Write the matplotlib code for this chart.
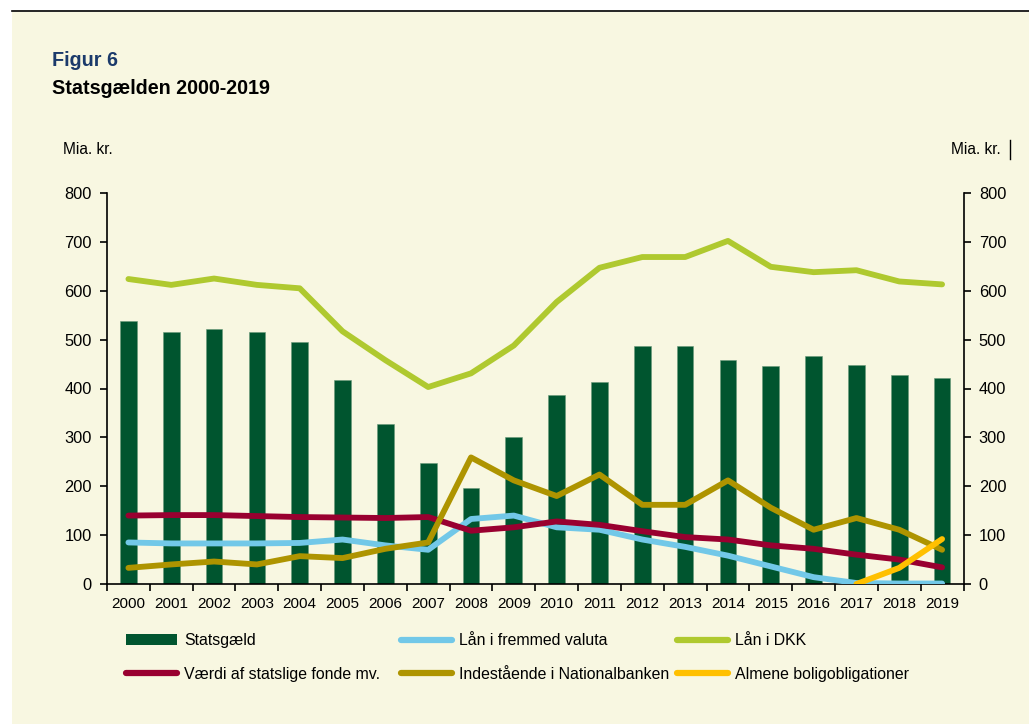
import matplotlib
matplotlib.use("Agg")
import matplotlib.pyplot as plt
import numpy as np
from matplotlib.lines import Line2D
from matplotlib.patches import Patch, Rectangle

plt.rcParams['font.family'] = ['Liberation Sans', 'DejaVu Sans']

years = [str(y) for y in range(2000, 2020)]
statsgaeld = [538, 515, 521, 516, 495, 418, 328, 247, 196, 301,
              386, 414, 487, 487, 458, 446, 466, 449, 427, 422]
laan_fremmed = [85, 83, 83, 83, 84, 91, 79, 70, 133, 140,
                116, 111, 91, 76, 58, 36, 14, 2, 1, 1]
laan_dkk = [624, 612, 625, 612, 605, 517, 458, 403, 431, 488,
            577, 647, 669, 669, 702, 649, 638, 642, 619, 613]
fonde = [140, 141, 141, 139, 137, 136, 135, 137, 109, 116,
         128, 121, 108, 96, 91, 79, 72, 60, 50, 34]
indestaaende = [33, 40, 46, 40, 57, 53, 72, 85, 259, 212,
                180, 224, 162, 162, 212, 156, 111, 135, 111, 70]
almene_years = ['2017', '2018', '2019']
almene = [0, 33, 92]
yticks = [0, 100, 200, 300, 400, 500, 600, 700, 800]

BG = '#F8F7E1'
c_bar = '#00552F'
c_blue = '#72C8E8'
c_lime = '#AFC92F'
c_red = '#990030'
c_olive = '#AE9400'
c_yellow = '#FFC000'

W, H = 1029, 724
fig = plt.figure(figsize=(W / 100, H / 100), dpi=100, facecolor='white')
# cream panel and top rule
fig.patches.append(Rectangle((12 / W, 0), 1 - 12 / W, 1 - 12 / H, transform=fig.transFigure,
                             facecolor=BG, edgecolor='none', zorder=-10))
fig.add_artist(Line2D([12 / W, 1], [1 - 11 / H, 1 - 11 / H], color='black', lw=1.2, zorder=-5))

XFS = 11
YFS = 11.8
ax = fig.add_axes([107 / W, 1 - 584 / H, (963.5 - 107) / W, (584 - 193) / H])
ax.set_facecolor('none')
x = np.arange(len(years))
ax.bar(x, statsgaeld, width=0.39, color=c_bar, edgecolor='#6a9a7a', linewidth=0.4, zorder=2)
lw = 4.2
kw = dict(lw=lw, solid_capstyle='round', solid_joinstyle='round', zorder=3)
ax.plot(x, laan_fremmed, color=c_blue, **kw)
ax.plot(x, laan_dkk, color=c_lime, **kw)
ax.plot(x, fonde, color=c_red, **kw)
ax.plot(x, indestaaende, color=c_olive, **kw)
xa = [years.index(y) for y in almene_years]
ax.plot(xa, almene, color=c_yellow, **kw)

ax.set_xlim(-0.5, len(years) - 0.5)
ax.set_ylim(0, 800)
ax.set_yticks(yticks)
ax.set_yticklabels([str(v) for v in yticks], fontsize=YFS)
ax.set_xticks(x)
ax.set_xticklabels(years, fontsize=XFS)
ax.tick_params(axis='x', which='major', length=0, pad=9)
ax.set_xticks(np.arange(-0.5, len(years) + 0.5, 1), minor=True)
ax.tick_params(axis='x', which='minor', length=5, width=1.2, direction='out')
ax.tick_params(axis='y', length=5, width=1.2, direction='out', pad=6)
for s in ['top', 'right']:
    ax.spines[s].set_visible(False)
ax.spines['left'].set_linewidth(1.2)
ax.spines['bottom'].set_linewidth(1.2)

ax2 = ax.twinx()
ax2.set_ylim(0, 800)
ax2.set_yticks(yticks)
ax2.set_yticklabels([str(v) for v in yticks], fontsize=YFS)
ax2.tick_params(axis='y', length=5, width=1.2, direction='out', pad=6)
for s in ['top', 'left', 'bottom']:
    ax2.spines[s].set_visible(False)
ax2.spines['right'].set_linewidth(1.2)

fig.text(52 / W, 1 - 60 / H, 'Figur 6', color='#1B3A6B', fontsize=14.2, fontweight='bold', va='center')
fig.text(52 / W, 1 - 88 / H, 'Statsgælden 2000-2019', color='black', fontsize=14.2, fontweight='bold', va='center')
fig.text(63 / W, 1 - 150 / H, 'Mia. kr.', fontsize=11.2, va='center')
fig.text(1001 / W, 1 - 150 / H, 'Mia. kr.', fontsize=11.2, va='center', ha='right')
fig.add_artist(Line2D([1010 / W, 1010 / W], [1 - 140 / H, 1 - 159 / H], color='black', lw=1))

handles = [Patch(facecolor=c_bar, edgecolor='none'),
           Line2D([], [], color=c_blue, lw=4.5, solid_capstyle='round'),
           Line2D([], [], color=c_lime, lw=4.5, solid_capstyle='round'),
           Line2D([], [], color=c_red, lw=4.5, solid_capstyle='round'),
           Line2D([], [], color=c_olive, lw=4.5, solid_capstyle='round'),
           Line2D([], [], color=c_yellow, lw=4.5, solid_capstyle='round')]
labels = ['Statsgæld', 'Lån i fremmed valuta', 'Lån i DKK',
          'Værdi af statslige fonde mv.', 'Indestående i Nationalbanken', 'Almene boligobligationer']
col_x = [126, 401, 677]
for c in range(3):
    idx = [c, c + 3]
    leg = fig.legend([handles[i] for i in idx], [labels[i] for i in idx],
                     loc='center left', bbox_to_anchor=(col_x[c] / W, 1 - 657.5 / H),
                     frameon=False, fontsize=11.4, handlelength=3.2, handleheight=0.7,
                     handletextpad=0.45, labelspacing=1.15, borderaxespad=0, borderpad=0)

fig.savefig('out.png', dpi=100, facecolor='white')
